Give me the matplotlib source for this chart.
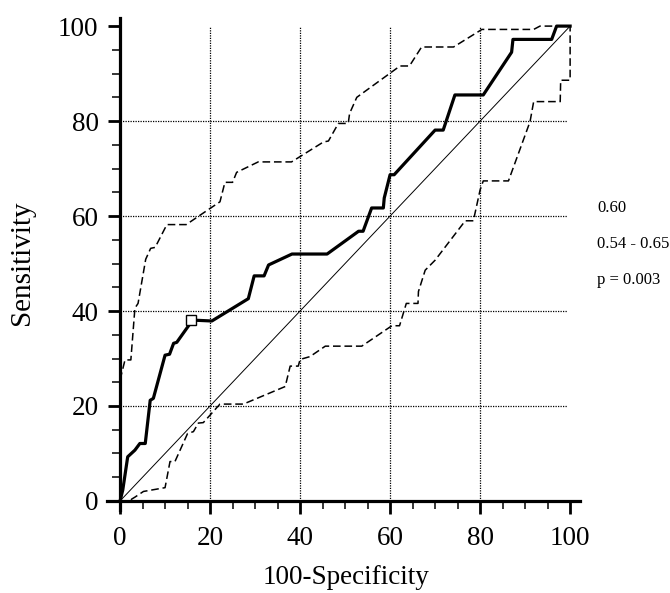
import matplotlib
matplotlib.use("Agg")
import matplotlib.pyplot as plt
from matplotlib.ticker import MultipleLocator

plt.rcParams["font.family"] = ["Liberation Serif", "DejaVu Serif"]

# ROC curve (100-Specificity, Sensitivity)
roc_x = [0, 0.6, 1.7, 3.3, 4.4, 5.6, 6.7, 7.4, 10.0, 11.0, 11.9, 12.6, 15.3, 15.8, 20.4,
         28.5, 29.8, 32.0, 33.0, 38.2, 46.0, 53.0, 54.0, 55.9, 58.5, 58.7, 60.0, 60.9,
         70.0, 71.8, 74.4, 80.7, 87.0, 87.3, 95.9, 97.0, 100]
roc_y = [0, 2.3, 9.3, 10.7, 12.1, 12.1, 21.2, 21.6, 30.7, 30.9, 33.2, 33.4, 37.0, 38.1, 37.9,
         42.6, 47.4, 47.4, 49.7, 52.0, 52.0, 56.8, 56.8, 61.7, 61.7, 63.8, 68.7, 68.7,
         78.1, 78.1, 85.5, 85.5, 94.5, 97.2, 97.2, 100, 100]

# upper confidence band
upper_x = [0, 1.1, 2.4, 3.3, 4.0, 5.7, 6.8, 7.8, 10.4, 14.7, 20.0, 22.2, 23.3, 25.0, 25.9,
           30.7, 38.1, 45.2, 46.3, 48.5, 50.7, 51.0, 52.6, 62.2, 64.3, 67.0, 74.1, 80.4,
           91.9, 93.3, 100]
upper_y = [25.5, 29.7, 29.7, 40.6, 41.6, 50.9, 53.2, 53.4, 58.2, 58.2, 61.6, 63.0, 67.1, 67.1,
           69.2, 71.4, 71.4, 75.6, 75.8, 79.5, 79.5, 81.6, 85.0, 91.6, 91.6, 95.6, 95.6, 99.3,
           99.3, 100, 100]

# lower confidence band
lower_x = [0, 2.2, 2.6, 3.3, 5.2, 10.0, 11.1, 12.2, 15.0, 16.3, 17.4, 18.5, 20.4, 22.2,
           27.4, 36.7, 37.8, 39.6, 40.0, 42.2, 45.6, 53.7, 60.4, 62.1, 63.6, 66.2, 66.3,
           67.8, 70.0, 76.7, 78.5, 80.0, 80.7, 86.3, 91.1, 91.9, 97.8, 97.9, 100, 100]
lower_y = [0, 0, 0.4, 0.8, 2.0, 2.8, 8.3, 8.3, 14.2, 14.6, 16.4, 16.5, 18.5, 20.4,
           20.4, 24.1, 28.4, 28.4, 29.8, 30.4, 32.6, 32.6, 36.9, 36.9, 41.6, 41.6, 44.1,
           48.6, 50.7, 59.0, 59.0, 65.5, 67.4, 67.4, 79.9, 84.1, 84.1, 88.6, 88.6, 100]

cut_x, cut_y = 15.8, 38.1
stats = ["0.60", "0.54 - 0.65", "p = 0.003"]

fig = plt.figure(figsize=(6.7, 5.93), dpi=100)
ax = fig.add_axes([0.1597, 0.140, 0.706, 0.8296])
ax.set_xlim(-2.9, 102.2)
ax.set_ylim(-1.9, 101.7)

for v in [20, 40, 60, 80]:
    ax.plot([v, v], [0, 100], color="black", lw=0.9, ls=(0, (1, 1)), zorder=1)
    ax.plot([0, 99.3], [v, v], color="black", lw=0.9, ls=(0, (1, 1)), zorder=1)

ax.plot([0, 100], [0, 100], color="black", lw=0.7, zorder=2)
ax.plot(upper_x, upper_y, color="black", lw=1.1, ls=(0, (5, 2.5)), zorder=2)
ax.plot(lower_x, lower_y, color="black", lw=1.1, ls=(0, (5, 2.5)), zorder=2)
ax.plot(roc_x, roc_y, color="black", lw=2.3, zorder=3)
ax.plot([cut_x], [cut_y], marker="s", ms=7, mfc="white", mec="black", mew=1.0, zorder=4)

for s in ["top", "right"]:
    ax.spines[s].set_visible(False)
for s in ["left", "bottom"]:
    ax.spines[s].set_position(("data", 0))
    ax.spines[s].set_linewidth(2.3)
ax.spines["left"].set_bounds(-1.9, 101.7)
ax.spines["bottom"].set_bounds(-2.9, 102.2)

ax.xaxis.set_major_locator(MultipleLocator(20))
ax.yaxis.set_major_locator(MultipleLocator(20))
ax.xaxis.set_minor_locator(MultipleLocator(5))
ax.yaxis.set_minor_locator(MultipleLocator(5))
ax.tick_params(which="major", direction="out", length=9, width=2, labelsize=19.5)
ax.tick_params(which="minor", direction="out", length=6, width=1.1)
ax.tick_params(axis="y", which="major", pad=6.5)
ax.tick_params(axis="x", which="major", pad=9)

ax.set_xlabel("100-Specificity", fontsize=19.5)
ax.set_ylabel("Sensitivity", fontsize=21)
ax.xaxis.set_label_coords(0.505, -0.112)
ax.yaxis.set_label_coords(-0.152, 0.502)

for i, s in enumerate(stats):
    fig.text(597 / 670, 1 - (208 + 36 * i) / 593, s, fontsize=12, va="center", ha="left")

fig.savefig("out.png", dpi=100)
